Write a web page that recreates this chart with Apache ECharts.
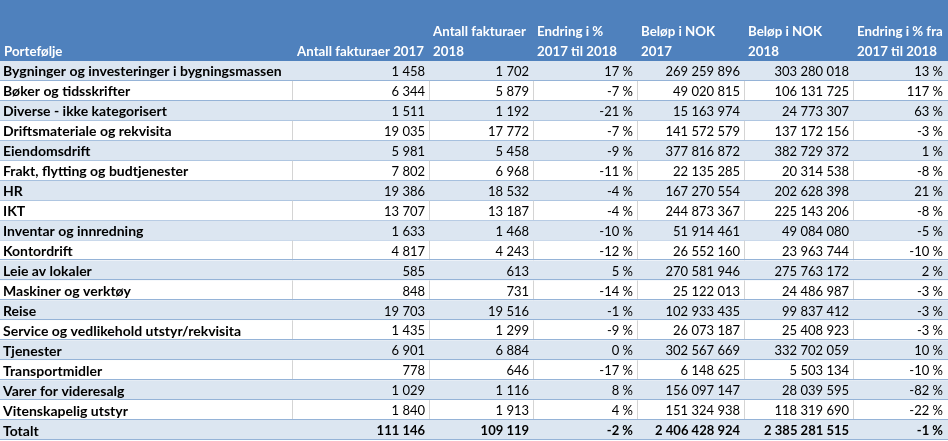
<!DOCTYPE html>
<html>
<head>
<meta charset="utf-8">
<script src="https://cdn.jsdelivr.net/npm/echarts@6/dist/echarts.min.js"></script>
<style>
html,body{margin:0;padding:0;background:#fff;}
#chart{width:948px;height:441px;}
</style>
</head>
<body>
<div id="chart"></div>
<script>
// ---- data ----
const categories = [
  'Bygninger og investeringer i bygningsmassen',
  'Bøker og tidsskrifter',
  'Diverse - ikke kategorisert',
  'Driftsmateriale og rekvisita',
  'Eiendomsdrift',
  'Frakt, flytting og budtjenester',
  'HR',
  'IKT',
  'Inventar og innredning',
  'Kontordrift',
  'Leie av lokaler',
  'Maskiner og verktøy',
  'Reise',
  'Service og vedlikehold utstyr/rekvisita',
  'Tjenester',
  'Transportmidler',
  'Varer for videresalg',
  'Vitenskapelig utstyr',
  'Totalt'
];
const invoices2017 = [1458, 6344, 1511, 19035, 5981, 7802, 19386, 13707, 1633, 4817, 585, 848, 19703, 1435, 6901, 778, 1029, 1840, 111146];
const invoices2018 = [1702, 5879, 1192, 17772, 5458, 6968, 18532, 13187, 1468, 4243, 613, 731, 19516, 1299, 6884, 646, 1116, 1913, 109119];
const invoiceChangePct = [17, -7, -21, -7, -9, -11, -4, -4, -10, -12, 5, -14, -1, -9, 0, -17, 8, 4, -2];
const amount2017 = [269259896, 49020815, 15163974, 141572579, 377816872, 22135285, 167270554, 244873367, 51914461, 26552160, 270581946, 25122013, 102933435, 26073187, 302567669, 6148625, 156097147, 151324938, 2406428924];
const amount2018 = [303280018, 106131725, 24773307, 137172156, 382729372, 20314538, 202628398, 225143206, 49084080, 23963744, 275763172, 24486987, 99837412, 25408923, 332702059, 5503134, 28039595, 118319690, 2385281515];
const amountChangePct = [13, 117, 63, -3, 1, -8, 21, -8, -5, -10, 2, -3, -3, -3, 10, -10, -82, -22, -1];
const headerLines = [
  ['', 'Portefølje'],
  ['', 'Antall fakturaer 2017'],
  ['Antall fakturaer', '2018'],
  ['Endring i %', '2017 til 2018'],
  ['Beløp i NOK', '2017'],
  ['Beløp i NOK', '2018'],
  ['Endring i % fra', '2017 til 2018']
];

// ---- layout ----
const colEdges = [0, 292, 429, 533, 637, 744, 853, 947];
const headerAlign = ['left', 'right', 'left', 'left', 'left', 'left', 'left'];
const FONT = 'Lato';
const FS_LABEL = 14;
const FS_HEAD = 13.3;
const FS_NUM = 13;
const HEADER_H = 61;

const fmtInt = v => String(v).replace(/\B(?=(\d{3})+(?!\d))/g, '\u00a0');
const fmtPct = v => v + '\u00a0%';

function rowTexts(i) {
  return [
    categories[i],
    fmtInt(invoices2017[i]),
    fmtInt(invoices2018[i]),
    fmtPct(invoiceChangePct[i]),
    fmtInt(amount2017[i]),
    fmtInt(amount2018[i]),
    fmtPct(amountChangePct[i])
  ];
}

const chart = echarts.init(document.getElementById('chart'), null, {renderer: 'canvas'});

const headerGraphics = [{
  type: 'rect', shape: {x: 0, y: 0, width: 948, height: HEADER_H},
  style: {fill: '#4F81BD'}, silent: true, z: 10
}];
headerLines.forEach((lines, c) => {
  const al = headerAlign[c];
  const x = al === 'left' ? colEdges[c] + 4 : colEdges[c + 1] - 5;
  [32, 52].forEach((y, k) => {
    if (!lines[k]) return;
    headerGraphics.push({
      type: 'text', x: x, y: y, z: 11, silent: true,
      style: {text: lines[k], fill: '#ffffff', font: 'bold ' + FS_HEAD + 'px ' + FONT,
        textAlign: al, textVerticalAlign: 'middle'}
    });
  });
});

const option = {
  animation: false,
  backgroundColor: '#ffffff',
  grid: {left: 0, right: 0, top: HEADER_H, bottom: 1, containLabel: false},
  xAxis: {type: 'value', min: 0, max: 948, show: false},
  yAxis: {type: 'category', data: categories, inverse: true, show: false},
  graphic: headerGraphics,
  series: [{
    type: 'custom',
    data: categories.map((c, i) => [0, i]),
    encode: {x: 0, y: 1},
    renderItem: function (params, api) {
      const i = api.value(1);
      const yc = api.coord([0, i])[1];
      const h = api.size([0, 1])[1];
      const top = yc - h / 2;
      const blue = i % 2 === 0;
      const isTotal = i === categories.length - 1;
      const xs = colEdges.map(e => api.coord([e, i])[0]);
      const children = [];
      children.push({type: 'rect', shape: {x: 0, y: top, width: 948, height: h},
        style: {fill: blue ? '#DCE6F1' : '#ffffff'}});
      if (!blue) {
        for (let c = 1; c < xs.length - 1; c++) {
          children.push({type: 'line', shape: {x1: xs[c] + 0.5, y1: top, x2: xs[c] + 0.5, y2: top + h},
            style: {stroke: '#D4D4D4', lineWidth: 1}});
        }
      }
      const yb = Math.round(top + h) - 0.5;
      children.push({type: 'line', shape: {x1: 0, y1: yb, x2: 948, y2: yb},
        style: {stroke: '#95B3D7', lineWidth: 1}});
      const texts = rowTexts(i);
      texts.forEach((t, c) => {
        const left = c === 0;
        children.push({
          type: 'text',
          x: left ? xs[0] + 3 : xs[c + 1] - 4,
          y: yc + 1,
          style: {
            text: t, fill: '#000000',
            font: ((left || isTotal) ? 'bold ' : '') + (left ? FS_LABEL : FS_NUM) + 'px ' + FONT,
            textAlign: left ? 'left' : 'right', textVerticalAlign: 'middle'
          }
        });
      });
      return {type: 'group', children: children};
    }
  }]
};
chart.setOption(option);
</script>
</body>
</html>
